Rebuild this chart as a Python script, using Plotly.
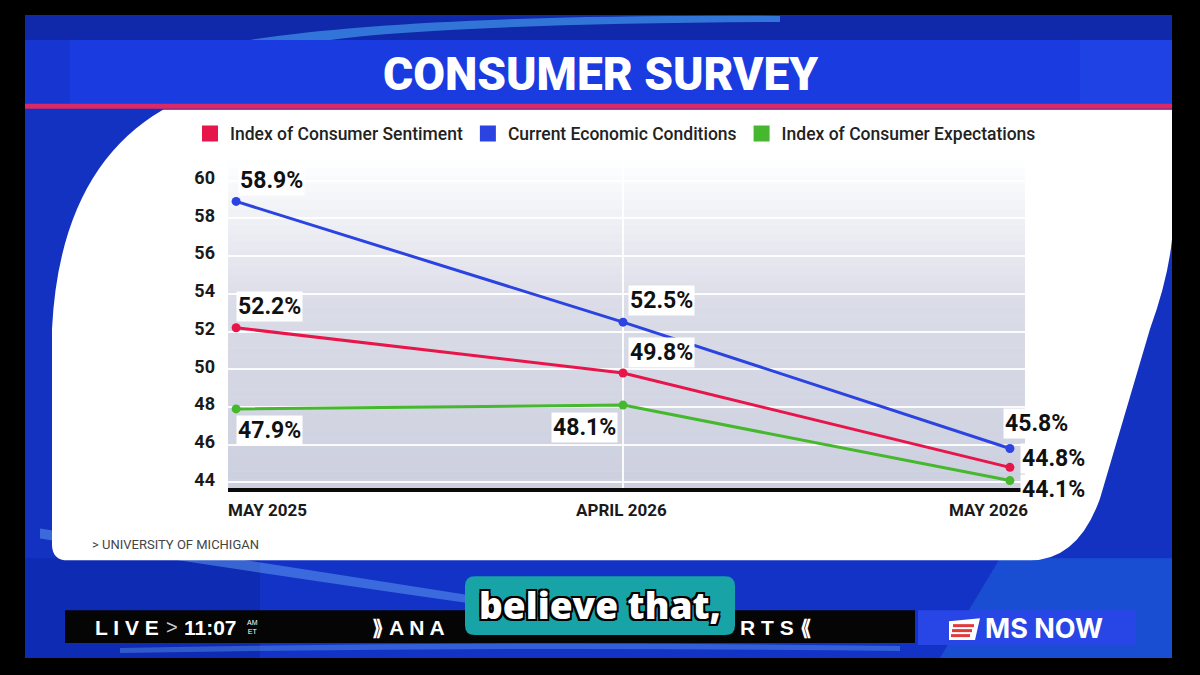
import plotly.graph_objects as go

# ---------------- data ----------------
categories = ["MAY 2025", "APRIL 2026", "MAY 2026"]
sentiment = [52.2, 49.8, 44.8]
current_conditions = [58.9, 52.5, 45.8]
expectations = [47.9, 48.1, 44.1]
series_names = ["Index of Consumer Sentiment", "Current Economic Conditions",
                "Index of Consumer Expectations"]
y_ticks = [44, 46, 48, 50, 52, 54, 56, 58, 60]

# ---------------- styling helpers ----------------
W, H = 1200, 675
NARROW = "Roboto, Liberation Sans Narrow, DejaVu Sans Condensed, sans-serif"
RED, BLUE, GREEN = "#e8154b", "#2b43e0", "#45b82d"


def px(x):
    return x / W


def py(y):
    return 1 - y / H


def path(pts_cmds):
    out = []
    for c in pts_cmds:
        if isinstance(c, str):
            out.append(c)
        else:
            out.append(f"{px(c[0]):.5f},{py(c[1]):.5f}")
    return " ".join(out)


shapes = []


def rect(x0, y0, x1, y1, color, line=None, layer="below"):
    shapes.append(dict(type="rect", xref="paper", yref="paper",
                       x0=px(x0), x1=px(x1), y0=py(y1), y1=py(y0),
                       fillcolor=color, line=line or dict(width=0), layer=layer))


def pshape(cmds, color, layer="below", line=None):
    shapes.append(dict(type="path", xref="paper", yref="paper", path=path(cmds),
                       fillcolor=color, line=line or dict(width=0), layer=layer))


# ---------------- background (TV frame) ----------------
rect(25, 15, 1172, 660, "#1432c2")
rect(25, 15, 1172, 40, "#0f29aa")
pshape(["M", (250, 40), "Q", (420, 14), (780, 16), "L", (780, 22), "Q", (450, 24), (330, 40), "Z"],
       "rgba(80,180,255,0.55)")
rect(25, 40, 1172, 106, "#1a3be0")
rect(25, 40, 70, 106, "#1735d0")
rect(1080, 40, 1172, 106, "#1e42e4")
rect(25, 104, 1172, 109, "#d92a66")
# lower blue area variations
rect(25, 560, 1172, 660, "#1233c6")
rect(25, 560, 260, 660, "#0e2bb3")
pshape(["M", (1000, 560), "L", (1172, 560), "L", (1172, 660), "L", (940, 660), "Z"], "rgba(40,130,235,0.35)")
pshape(["M", (40, 530), "Q", (300, 570), (520, 605), "L", (520, 612), "Q", (290, 580), (40, 540), "Z"],
       "rgba(120,190,255,0.40)")
pshape(["M", (120, 650), "Q", (500, 642), (900, 648), "L", (900, 653), "Q", (500, 648), (120, 655), "Z"],
       "rgba(130,200,255,0.30)")

# white panel
pshape(["M", (163, 110), "L", (1172, 110), "L", (1172, 240), "Q", (1168, 280), (1150, 330),
        "L", (1100, 500), "Q", (1078, 562), (1030, 562), "L", (68, 562), "Q", (52, 562), (52, 546),
        "L", (52, 330), "Q", (60, 170), (163, 110), "Z"], "#ffffff")

# plot-area gradient (white at top -> light grey-blue at bottom)
top, bot = 160, 489
n = 40
c_top, c_mid, c_bot = (255, 255, 255), (218, 220, 231), (205, 208, 223)
for i in range(n):
    y0 = top + (bot - top) * i / n
    y1 = top + (bot - top) * (i + 1) / n
    t = (i + 0.5) / n
    if t < 0.45:
        u = t / 0.45
        c = [c_top[k] + (c_mid[k] - c_top[k]) * u for k in range(3)]
    else:
        u = (t - 0.45) / 0.55
        c = [c_mid[k] + (c_bot[k] - c_mid[k]) * u for k in range(3)]
    rect(228, y0, 1025, y1 + 0.5, "rgb(%d,%d,%d)" % tuple(int(v) for v in c))

# ticker bar
rect(65, 612, 915, 645, "#050505")
rect(918, 612, 1136, 647, "#2846e6")
# MS NOW flag logo
pshape(["M", (949, 623), "L", (980, 620), "L", (975, 642), "L", (949, 642), "Z"], "#ffffff")
rect(953, 626, 974, 629, "#e03a3a", layer="above")
rect(952, 631, 972, 634, "#e03a3a", layer="above")
rect(951, 636, 970, 639, "#e03a3a", layer="above")

# caption box (rounded)
pshape(["M", (475, 578), "L", (725, 578), "Q", (735, 578), (735, 588), "L", (735, 627),
        "Q", (735, 637), (725, 637), "L", (475, 637), "Q", (465, 637), (465, 627),
        "L", (465, 588), "Q", (465, 578), (475, 578), "Z"], "#18a3a6", layer="above")

# ---------------- traces ----------------
fig = go.Figure()
for name, vals, col in [(series_names[1], current_conditions, BLUE),
                        (series_names[0], sentiment, RED),
                        (series_names[2], expectations, GREEN)]:
    fig.add_trace(go.Scatter(x=categories, y=vals, mode="lines+markers", name=name,
                             line=dict(color=col, width=3), marker=dict(color=col, size=9),
                             showlegend=False, hoverinfo="skip"))

for name, col in zip(series_names, [RED, BLUE, GREEN]):
    fig.add_trace(go.Scatter(x=[None], y=[None], mode="markers", name=name,
                             marker=dict(symbol="square", size=16, color=col)))

# ---------------- annotations ----------------
ann = []


def label(xi, val, xanchor, yanchor, xs, ys):
    ann.append(dict(x=categories[xi], y=val, xref="x", yref="y", text=f"{val}%",
                    showarrow=False, xanchor=xanchor, yanchor=yanchor, xshift=xs, yshift=ys,
                    bgcolor="white", borderpad=1,
                    font=dict(family=NARROW, size=23, color="#111", weight=700)))


label(0, current_conditions[0], "left", "bottom", 2, 5)
label(0, sentiment[0], "left", "bottom", 0, 6)
label(0, expectations[0], "left", "top", 0, -6)
label(1, current_conditions[1], "left", "bottom", 5, 6)
label(1, sentiment[1], "left", "bottom", 5, 5)
label(1, expectations[1], "right", "top", -5, -7)
label(2, current_conditions[2], "left", "bottom", -7, 10)
label(2, sentiment[2], "left", "middle", 10, 9)
label(2, expectations[2], "left", "middle", 10, -9)

# x category labels
for xi, xa, xs in [(0, "left", -10), (1, "center", -2), (2, "right", 20)]:
    ann.append(dict(x=categories[xi], y=py(512), xref="x", yref="paper", text=categories[xi],
                    showarrow=False, xanchor=xa, yanchor="middle", xshift=xs,
                    font=dict(family=NARROW, size=17, color="#1a1a1a", weight=700)))

# title
ann.append(dict(x=0.5, y=py(74), xref="paper", yref="paper", text="CONSUMER SURVEY",
                showarrow=False, xanchor="center", yanchor="middle",
                font=dict(family=NARROW, size=46, color="white", weight=900)))
# source
ann.append(dict(x=px(90), y=py(546), xref="paper", yref="paper", text="&gt; UNIVERSITY OF MICHIGAN",
                showarrow=False, xanchor="left", yanchor="middle",
                font=dict(family=NARROW, size=13, color="#444")))
# ticker texts
tick_font = dict(family="Liberation Sans, Arial, sans-serif", size=21, color="white", weight=700)
ann.append(dict(x=px(93), y=py(629), xref="paper", yref="paper", text="L I V E",
                showarrow=False, xanchor="left", yanchor="middle", font=tick_font))
ann.append(dict(x=px(164), y=py(629), xref="paper", yref="paper", text="&gt;",
                showarrow=False, xanchor="left", yanchor="middle",
                font=dict(family="Liberation Sans", size=20, color="#cccccc")))
ann.append(dict(x=px(182), y=py(629), xref="paper", yref="paper", text="11:07",
                showarrow=False, xanchor="left", yanchor="middle", font=tick_font))
ann.append(dict(x=px(245), y=py(629), xref="paper", yref="paper", text="AM<br>ET",
                showarrow=False, xanchor="left", yanchor="middle",
                font=dict(family="Liberation Sans", size=7, color="white")))
ann.append(dict(x=px(370), y=py(629), xref="paper", yref="paper", text="⟫ A N A",
                showarrow=False, xanchor="left", yanchor="middle", font=tick_font))
ann.append(dict(x=px(738), y=py(629), xref="paper", yref="paper", text="R T S ⟪",
                showarrow=False, xanchor="left", yanchor="middle", font=tick_font))
ann.append(dict(x=px(1044), y=py(630), xref="paper", yref="paper", text="MS NOW",
                showarrow=False, xanchor="center", yanchor="middle",
                font=dict(family="Inter, Roboto, sans-serif", size=27, color="white", weight=700)))
# caption
ann.append(dict(x=px(600), y=py(606), xref="paper", yref="paper", text="believe that,",
                showarrow=False, xanchor="center", yanchor="middle",
                font=dict(family="Open Sans, Roboto, sans-serif", size=37, color="white", weight=800,
                          shadow="-2px -2px 0 #000, 2px -2px 0 #000, -2px 2px 0 #000, 2px 2px 0 #000")))

# ---------------- layout ----------------
fig.update_layout(
    width=W, height=H, margin=dict(l=0, r=0, t=0, b=0),
    paper_bgcolor="#000000", plot_bgcolor="rgba(0,0,0,0)",
    shapes=shapes, annotations=ann,
    legend=dict(orientation="h", x=px(190), y=py(134), xanchor="left", yanchor="middle",
                bgcolor="rgba(0,0,0,0)", font=dict(family=NARROW, size=17.5, color="#222", weight=500),
                itemsizing="trace", tracegroupgap=0),
    xaxis=dict(type="category", domain=[px(228), px(1025)], range=[-0.021, 2.039],
               tickmode="array", tickvals=[categories[1]], showticklabels=False,
               showgrid=True, gridcolor="rgba(255,255,255,0.9)", gridwidth=2,
               showline=True, linecolor="#0a0a0a", linewidth=4, zeroline=False,
               fixedrange=True),
    yaxis=dict(domain=[py(489), py(160)], range=[43.73, 61.12], tickmode="array",
               tickvals=y_ticks, showgrid=True, gridcolor="rgba(255,255,255,0.9)", gridwidth=2,
               zeroline=False, showline=False, ticks="", ticklabelstandoff=12, ticklabelshift=-3,
               tickfont=dict(family=NARROW, size=18, color="#1a1a1a", weight=700),
               fixedrange=True),
)

fig.write_html("out.html")
